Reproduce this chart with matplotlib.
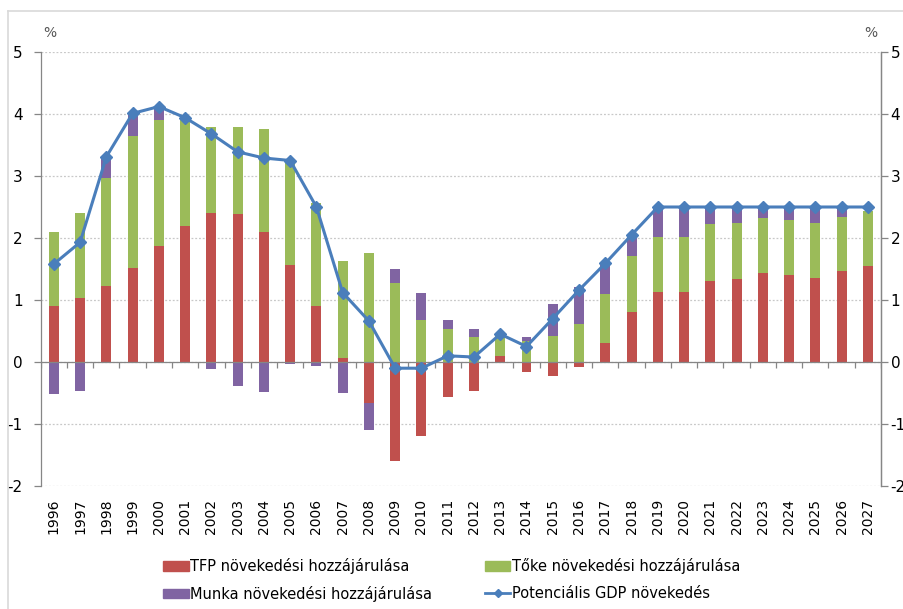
import numpy as np
import matplotlib
matplotlib.use("Agg")
import matplotlib.pyplot as plt
from matplotlib.lines import Line2D
from matplotlib.patches import Patch

plt.rcParams['font.family'] = ['DejaVu Sans']
plt.rcParams['axes.unicode_minus'] = False

years = [str(y) for y in range(1996, 2028)]
tfp = [0.91, 1.03, 1.23, 1.52, 1.87, 2.19, 2.40, 2.38, 2.10, 1.56, 0.90, 0.06,
       -0.66, -1.59, -1.19, -0.56, -0.46, 0.10, -0.16, -0.22, -0.08, 0.30,
       0.80, 1.13, 1.13, 1.31, 1.34, 1.43, 1.40, 1.36, 1.46, 1.55]
toke = [1.19, 1.37, 1.74, 2.13, 2.04, 1.74, 1.39, 1.41, 1.66, 1.71, 1.67, 1.57,
        1.76, 1.27, 0.67, 0.53, 0.41, 0.34, 0.34, 0.42, 0.62, 0.80,
        0.91, 0.89, 0.89, 0.91, 0.90, 0.89, 0.89, 0.89, 0.88, 0.89]
munka = [-0.51, -0.47, 0.30, 0.33, 0.21, 0.0, -0.12, -0.39, -0.48, -0.04, -0.06, -0.50,
         -0.43, 0.23, 0.44, 0.15, 0.13, 0.0, 0.07, 0.51, 0.59, 0.51,
         0.34, 0.47, 0.47, 0.27, 0.25, 0.17, 0.20, 0.24, 0.15, 0.0]
gdp = [1.58, 1.93, 3.31, 4.01, 4.12, 3.94, 3.68, 3.39, 3.29, 3.25, 2.50, 1.12,
       0.66, -0.10, -0.10, 0.10, 0.08, 0.45, 0.25, 0.70, 1.16, 1.59,
       2.05, 2.50, 2.50, 2.50, 2.50, 2.50, 2.50, 2.50, 2.50, 2.50]

labels = ["TFP növekedési hozzájárulása", "Tőke növekedési hozzájárulása",
          "Munka növekedési hozzájárulása", "Potenciális GDP növekedés"]
yticks = [-2, -1, 0, 1, 2, 3, 4, 5]

c_red = '#C0504D'
c_green = '#9BBB59'
c_purple = '#8064A2'
c_blue = '#4A7EBB'
c_axis = '#868686'

W, H = 904, 609
fig = plt.figure(figsize=(W / 100, H / 100), dpi=100)
ax = fig.add_axes([40.7 / W, 1 - 486 / H, (881 - 40.7) / W, (486 - 52) / H])

x = np.arange(len(years))
pos_bottom = np.zeros(len(years))
neg_bottom = np.zeros(len(years))
bw = 0.38
for vals, col in [(tfp, c_red), (toke, c_green), (munka, c_purple)]:
    v = np.array(vals)
    bottoms = np.where(v >= 0, pos_bottom, neg_bottom)
    ax.bar(x, v, bw, bottom=bottoms, color=col, zorder=3, linewidth=0)
    pos_bottom = pos_bottom + np.where(v >= 0, v, 0)
    neg_bottom = neg_bottom + np.where(v < 0, v, 0)

ax.plot(x, gdp, color=c_blue, lw=2.2, marker='D', ms=6.5, zorder=5)

ax.set_xlim(-0.5, len(years) - 0.5)
ax.set_ylim(-2, 5)
ax.set_yticks(yticks)
ax.set_yticklabels([str(t) for t in yticks], fontsize=11)
ax.grid(axis='y', linestyle=(0, (1.5, 1.5)), color='#C8C8C8', lw=0.9, zorder=0)
ax.set_axisbelow(True)
for s in ['top', 'bottom']:
    ax.spines[s].set_visible(False)
for s in ['left', 'right']:
    ax.spines[s].set_color(c_axis)
    ax.spines[s].set_linewidth(0.9)
ax.tick_params(axis='y', direction='out', length=5, width=0.9, color=c_axis,
               pad=8, labelcolor='#000000')
ax.set_xticks(x)
ax.set_xticklabels(years, rotation=90, fontsize=10)
ax.tick_params(axis='x', length=0, pad=9)

# zero line with category boundary ticks
ax.axhline(0, color=c_axis, lw=0.9, zorder=4)
bounds = np.arange(-0.5, len(years), 1.0)
ax.vlines(bounds, -0.1, 0, color=c_axis, lw=0.9, zorder=4)

ax2 = ax.twinx()
ax2.set_ylim(-2, 5)
ax2.set_yticks(yticks)
ax2.set_yticklabels([str(t) for t in yticks], fontsize=11)
ax2.tick_params(axis='y', direction='out', length=5, width=0.9, color=c_axis, pad=2)
for s in ['top', 'bottom', 'left']:
    ax2.spines[s].set_visible(False)
ax2.spines['right'].set_color(c_axis)
ax2.spines['right'].set_linewidth(0.9)

fig.text(50 / W, 1 - 33 / H, '%', fontsize=10, color='#555555', ha='center', va='center')
fig.text(871 / W, 1 - 33 / H, '%', fontsize=10, color='#555555', ha='center', va='center')

# chart border
fig.add_artist(Line2D([8 / W, 8 / W], [0, 1 - 11 / H], color='#D9D9D9', lw=1.2,
                      transform=fig.transFigure))
fig.add_artist(Line2D([8 / W, 1], [1 - 11 / H, 1 - 11 / H], color='#D9D9D9', lw=1.2,
                      transform=fig.transFigure))

handles = [Patch(color=c_red), Patch(color=c_purple), Patch(color=c_green),
           Line2D([], [], color=c_blue, lw=2, marker='D', ms=4)]
hl = [labels[0], labels[2], labels[1], labels[3]]
fig.legend(handles, hl, ncol=2, loc='upper left',
           bbox_to_anchor=(163 / W, 1 - 558 / H), frameon=False, fontsize=10.5,
           borderpad=0, borderaxespad=0, handlelength=1.75, handleheight=0.62,
           handletextpad=0.12, columnspacing=3.6, labelspacing=0.8)

fig.savefig('out.png', dpi=100)
